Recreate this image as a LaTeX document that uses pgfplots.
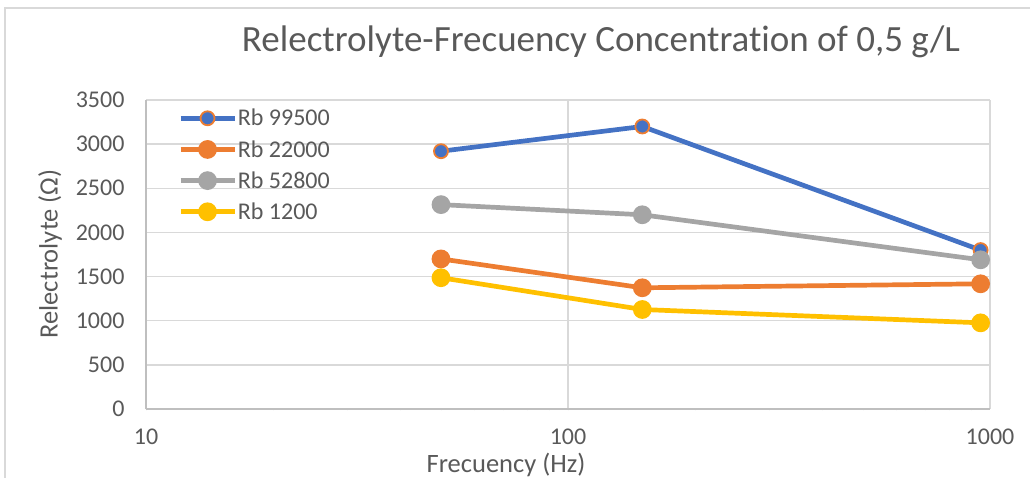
\documentclass[border=0pt]{standalone}
\usepackage{pgfplots}
\pgfplotsset{compat=1.18}
\usepackage{fontspec}
\setmainfont{Carlito}[Ligatures=NoCommon]
\definecolor{cblue}{HTML}{4472C4}
\definecolor{corange}{HTML}{ED7D31}
\definecolor{cgray}{HTML}{A5A5A5}
\definecolor{cyellow}{HTML}{FFC000}
\definecolor{txt}{HTML}{595959}
\definecolor{gridc}{HTML}{D9D9D9}
\definecolor{axc}{HTML}{BFBFBF}
\begin{document}
\begin{tikzpicture}
\path[use as bounding box] (0,0) rectangle (1030pt,477pt);
% chart area frame
\draw[gridc, line width=1.2pt] (5pt,-10pt) -- (5pt,469pt) -- (1040pt,469pt);
% titles
\node[txt, font=\fontsize{37}{44}\selectfont, anchor=base] at (601pt,425pt) {Relectrolyte-Frecuency Concentration of 0,5 g/L};
\node[txt, font=\fontsize{26.5}{31}\selectfont, anchor=base] at (506pt,5pt) {Frecuency (Hz)};
\node[txt, font=\fontsize{26.5}{31}\selectfont, rotate=90] at (50pt,223pt) {Relectrolyte (Ω)};
\begin{axis}[
  at={(146pt,68pt)}, anchor=south west,
  scale only axis, width=844pt, height=309pt,
  xmode=log, xmin=10, xmax=1000, ymin=0, ymax=3500,
  xtick={10,100,1000}, xticklabels={10,100,1000},
  ytick={0,500,...,3500},
  /pgf/number format/assume math mode=true,
  /pgf/number format/set thousands separator={},
  tick label style={txt, font=\fontsize{24}{28}\selectfont},
  xticklabel style={yshift=-16pt},
  yticklabel style={xshift=-18pt},
  major tick length=0pt, minor tick num=0,
  xmajorgrids, ymajorgrids,
  grid style={gridc, line width=1.5pt},
  axis x line=bottom, axis y line=left,
  axis line style={axc, line width=1.5pt, -},
  every axis plot/.append style={line width=4.7pt, mark=*, mark size=7pt},
  legend style={at={(29/844,1-6/309)}, anchor=north west, draw=none, fill=none,
    font=\fontsize{24}{28}\selectfont, text=txt, row sep=11pt,
    nodes={inner sep=1pt}},
  legend cell align=left,
  legend image code/.code={\draw[mark repeat=2,mark phase=2] plot coordinates {(0pt,0pt) (27pt,0pt) (54pt,0pt)};},
]
\addplot[cblue, mark options={fill=cblue, draw=corange, line width=1.8pt}] coordinates {(50,2920) (150,3200) (950,1800)};
\addlegendentry{Rb 99500}
\addplot[corange, mark options={fill=corange}] coordinates {(50,1700) (150,1373) (950,1418)};
\addlegendentry{Rb 22000}
\addplot[cgray, mark options={fill=cgray}] coordinates {(50,2315) (150,2200) (950,1690)};
\addlegendentry{Rb 52800}
\addplot[cyellow, mark options={fill=cyellow}] coordinates {(50,1487) (150,1127) (950,976)};
\addlegendentry{Rb 1200}
\end{axis}
\end{tikzpicture}
\end{document}
